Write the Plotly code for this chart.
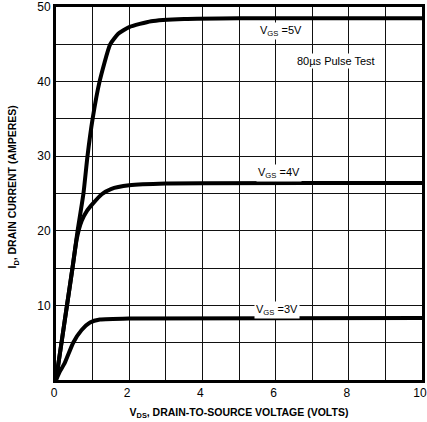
import plotly.graph_objects as go

# Data (VDS in volts, ID in amperes)
vds_5v = [0, 0.15, 0.30, 0.45, 0.59, 0.75, 0.86, 1.00, 1.19, 1.48, 1.70, 2.00, 2.60, 3.50, 5.00, 10.0]
id_5v = [0, 5.0, 10.0, 15.0, 20.0, 25.0, 30.0, 35.0, 40.0, 45.0, 46.4, 47.3, 48.1, 48.4, 48.5, 48.5]

vds_4v = [0, 0.15, 0.30, 0.45, 0.57, 0.70, 0.85, 1.00, 1.25, 1.50, 2.00, 3.00, 10.0]
id_4v = [0, 5.0, 10.0, 15.0, 19.0, 21.3, 22.7, 23.6, 24.9, 25.6, 26.1, 26.35, 26.4]

vds_3v = [0, 0.10, 0.24, 0.47, 0.70, 0.93, 1.20, 2.00, 10.0]
id_3v = [0, 1.1, 2.3, 5.0, 6.7, 7.7, 8.1, 8.25, 8.3]

x_ticks = [0, 2, 4, 6, 8, 10]
y_ticks = [10, 20, 30, 40, 50]

FONT = "Liberation Sans, Arial, sans-serif"

fig = go.Figure()
for xs, ys in [(vds_5v, id_5v), (vds_4v, id_4v), (vds_3v, id_3v)]:
    fig.add_trace(go.Scatter(x=xs, y=ys, mode="lines",
                             line=dict(color="black", width=4, shape="spline", smoothing=0.5),
                             showlegend=False, hoverinfo="skip"))

ann_style = dict(xref="x", yref="y", showarrow=False, bgcolor="white",
                 font=dict(family=FONT, size=11, color="black"), borderpad=1)
fig.add_annotation(x=6.15, y=46.8, text="V<sub>GS</sub> =5V", **ann_style)
fig.add_annotation(x=7.65, y=42.7, text="80µs Pulse Test", **ann_style)
fig.add_annotation(x=6.1, y=27.7, text="V<sub>GS</sub> =4V", **ann_style)
fig.add_annotation(x=6.05, y=9.4, text="V<sub>GS</sub> =3V", **ann_style)

# y-axis title placed as a rotated annotation in the left margin
fig.add_annotation(xref="paper", yref="paper", x=0, y=0.516, xshift=-43,
                   xanchor="center", yanchor="middle", textangle=-90, showarrow=False,
                   text="<b>I<sub>D</sub>, DRAIN CURRENT (AMPERES)</b>",
                   font=dict(family=FONT, size=10.5, color="black"))

fig.update_xaxes(range=[0, 10], tickvals=x_ticks, ticktext=[str(v) for v in x_ticks],
                 showgrid=True, gridcolor="#111", gridwidth=1.3,
                 minor=dict(dtick=1, showgrid=True, gridcolor="#111", gridwidth=1.3),
                 showline=True, linecolor="black", linewidth=3, mirror=True,
                 zeroline=False, ticks="", automargin=False, ticklabeloverflow="allow",
                 ticklabelshift=-2,
                 tickfont=dict(family=FONT, size=12, color="black"),
                 title=dict(text="<b>V<sub>DS</sub>, DRAIN-TO-SOURCE VOLTAGE (VOLTS)</b>",
                            font=dict(family=FONT, size=10.5, color="black"), standoff=10))
fig.update_yaxes(range=[0, 50], tickvals=y_ticks, ticktext=[str(v) for v in y_ticks],
                 showgrid=True, gridcolor="#111", gridwidth=1.3,
                 minor=dict(dtick=5, showgrid=True, gridcolor="#111", gridwidth=1.3),
                 showline=True, linecolor="black", linewidth=3, mirror=True,
                 zeroline=False, ticks="", automargin=False, ticklabeloverflow="allow",
                 tickfont=dict(family=FONT, size=12, color="black"))

fig.update_layout(width=427, height=422, margin=dict(l=56, r=5, t=7, b=42),
                  plot_bgcolor="white", paper_bgcolor="white")

fig.write_html("out.html", config={"displayModeBar": False},
               post_script="document.body.style.margin='0';document.body.style.overflow='hidden';")
